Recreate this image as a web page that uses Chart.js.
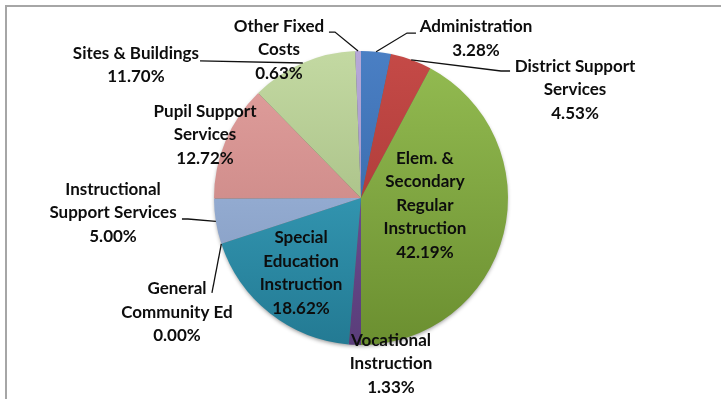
<!DOCTYPE html>
<html>
<head>
<meta charset="utf-8">
<title>Expenditures by Program</title>
<script src="https://cdn.jsdelivr.net/npm/chart.js@4.4.0/dist/chart.umd.min.js"></script>
<style>
  body { margin: 0; background: #fff; }
  #wrap { position: relative; width: 721px; height: 399px; overflow: hidden; }
  #frame { position: absolute; left: 5px; top: 5px; right: -10px; bottom: -10px;
           border-top: 2px solid #a6a6a6; border-left: 2px solid #a6a6a6; }
  canvas { position: absolute; left: 0; top: 0; }
</style>
</head>
<body>
<div id="wrap">
  <div id="frame"></div>
  <canvas id="pie" width="721" height="399"></canvas>
</div>
<script>
// program categories, clockwise from 12 o'clock
const categories = [
  ["Administration"],
  ["District Support", "Services"],
  ["Elem. &", "Secondary", "Regular", "Instruction"],
  ["Vocational", "Instruction"],
  ["Special", "Education", "Instruction"],
  ["General", "Community Ed"],
  ["Instructional", "Support Services"],
  ["Pupil Support", "Services"],
  ["Sites & Buildings"],
  ["Other Fixed", "Costs"]
];
const shares = [3.28, 4.53, 42.19, 1.33, 18.62, 0.00, 5.00, 12.72, 11.70, 0.63];

// slice shading: lighter at the top of the pie, darker at the bottom
const topColors = ["#4a7fc4", "#c54a47", "#94bc52", "#7a5aa0", "#40adca", "#f79646", "#a6bfe6", "#e2a09e", "#c3d9a2", "#b6a8d8"];
const bottomColors = ["#2f5f9e", "#9e3230", "#6b8f30", "#5a3d7a", "#237a93", "#c0702c", "#7f96bb", "#c07d7b", "#98b075", "#998bc0"];

// label anchors relative to pie centre, in radius units; leaders are elbow points
const labelAt = [
  { x: 0.782, y: -1.085, leader: [[0.313, -1.122], [0.374, -1.122]] },
  { x: 1.456, y: -0.735, leader: [[0.952, -0.864], [1.014, -0.864]] },
  { x: 0.435, y: 0.048 },
  { x: 0.204, y: 1.129 },
  { x: -0.408, y: 0.510 },
  { x: -1.252, y: 0.776, leader: [[-1.014, 0.646]] },
  { x: -1.687, y: 0.102, leader: [[-1.177, 0.143], [-1.218, 0.143]] },
  { x: -1.061, y: -0.429 },
  { x: -1.531, y: -0.905, leader: [[-1.095, -0.933]] },
  { x: -0.558, y: -1.007, leader: [[-0.177, -1.129], [-0.218, -1.129]] }
];

const lineHeight = 23.5;

function shade(ctx) {
  const i = ctx.dataIndex;
  const area = ctx.chart.chartArea;
  if (!area) return topColors[i];
  const g = ctx.chart.ctx.createLinearGradient(0, area.top, 0, area.bottom);
  g.addColorStop(0, topColors[i]);
  g.addColorStop(1, bottomColors[i]);
  return g;
}

// soft dark rim under the pie
const pieShadow = {
  id: "pieShadow",
  beforeDatasetsDraw(chart) {
    const arc = chart.getDatasetMeta(0).data[0];
    if (!arc) return;
    const p = arc.getProps(["x", "y", "outerRadius"], true);
    const c = chart.ctx;
    c.save();
    c.shadowColor = "rgba(0,0,0,0.45)";
    c.shadowBlur = 4;
    c.shadowOffsetY = 2;
    c.fillStyle = "#5a6a5a";
    c.beginPath();
    c.arc(p.x, p.y, p.outerRadius - 1, 0, Math.PI * 2);
    c.fill();
    c.restore();
  }
};

const sliceLabels = {
  id: "sliceLabels",
  afterDatasetsDraw(chart) {
    const c = chart.ctx;
    const arcs = chart.getDatasetMeta(0).data;
    c.save();
    c.font = "bold 17px Lato, 'DejaVu Sans', sans-serif";
    c.fillStyle = "#0d0d0d";
    c.textAlign = "center";
    c.textBaseline = "middle";
    c.strokeStyle = "#111";
    c.lineWidth = 1.3;
    arcs.forEach((arc, i) => {
      const p = arc.getProps(["x", "y", "startAngle", "endAngle", "outerRadius"], true);
      const r = p.outerRadius;
      const lay = labelAt[i];
      if (lay.leader) {
        const mid = (p.startAngle + p.endAngle) / 2;
        c.beginPath();
        c.moveTo(p.x + Math.cos(mid) * r, p.y + Math.sin(mid) * r);
        lay.leader.forEach(pt => c.lineTo(p.x + pt[0] * r, p.y + pt[1] * r));
        c.stroke();
      }
      const lines = categories[i].concat([shares[i].toFixed(2) + "%"]);
      const cx = p.x + lay.x * r;
      const cy = p.y + lay.y * r - (lines.length - 1) * lineHeight / 2;
      lines.forEach((t, k) => c.fillText(t, cx, cy + k * lineHeight));
    });
    c.restore();
  }
};

new Chart(document.getElementById("pie"), {
  type: "pie",
  data: {
    labels: categories.map(l => l.join(" ")),
    datasets: [{
      data: shares,
      backgroundColor: shade,
      borderWidth: 0
    }]
  },
  options: {
    responsive: false,
    animation: false,
    layout: { padding: { top: 51, bottom: 54, left: 100, right: 99 } },
    plugins: {
      legend: { display: false },
      tooltip: { enabled: false }
    }
  },
  plugins: [pieShadow, sliceLabels]
});
</script>
</body>
</html>
